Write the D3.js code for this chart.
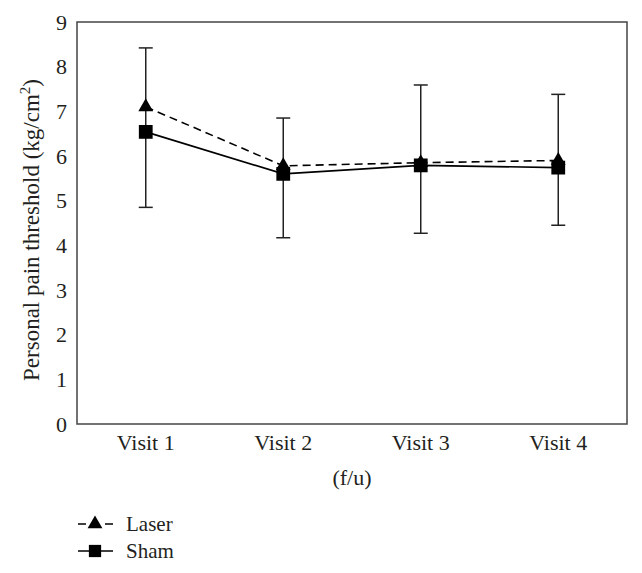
<!DOCTYPE html>
<html>
<head>
<meta charset="utf-8">
<script src="https://cdn.jsdelivr.net/npm/d3@7"></script>
<style>
  html, body { margin: 0; padding: 0; background: #fff; }
  svg { display: block; }
  text { font-family: "Liberation Serif", "DejaVu Serif", serif; fill: #231f20; }
</style>
</head>
<body>
<svg id="chart" width="642" height="573"></svg>
<script>
const categories = ["Visit 1", "Visit 2", "Visit 3", "Visit 4"];
const laserValues = [7.10, 5.78, 5.85, 5.90];
const shamValues = [6.54, 5.60, 5.79, 5.74];
const errorUpper = [8.42, 6.85, 7.59, 7.38];
const errorLower = [4.85, 4.17, 4.27, 4.45];
const yTicks = [0, 1, 2, 3, 4, 5, 6, 7, 8, 9];
const seriesNames = ["Laser", "Sham"];

const svg = d3.select("#chart");
const margin = { left: 77, right: 15, top: 22, bottom: 149 };
const W = 642, H = 573;
const FS = "22px";
const x = d3.scaleBand().domain(categories).range([margin.left, W - margin.right]).padding(0);
const y = d3.scaleLinear().domain([0, 9]).range([H - margin.bottom, margin.top]);

// frame
svg.append("rect")
  .attr("x", margin.left).attr("y", margin.top)
  .attr("width", W - margin.right - margin.left)
  .attr("height", y(0) - y(9))
  .attr("fill", "none").attr("stroke", "#444").attr("stroke-width", 1.5);

// y axis
const yAxis = svg.append("g").attr("transform", `translate(${margin.left},0)`)
  .call(d3.axisLeft(y).tickValues(yTicks).tickSize(0).tickPadding(10).tickFormat(d3.format("d")));
yAxis.select(".domain").remove();
yAxis.selectAll("text").style("font-size", FS).attr("fill", "#231f20")
  .style("font-family", "'Liberation Serif', serif");

// x axis
const xAxis = svg.append("g").attr("transform", `translate(0,${y(0)})`)
  .call(d3.axisBottom(x).tickSize(0).tickPadding(10));
xAxis.select(".domain").remove();
xAxis.selectAll("text").style("font-size", FS).attr("fill", "#231f20")
  .style("font-family", "'Liberation Serif', serif");

// axis titles
svg.append("text")
  .attr("x", (margin.left + W - margin.right) / 2).attr("y", 485)
  .attr("text-anchor", "middle").style("font-size", FS).text("(f/u)");

const yl = svg.append("text")
  .attr("transform", `translate(39,230) rotate(-90)`)
  .attr("text-anchor", "middle").style("font-size", "23px");
yl.append("tspan").text("Personal pain threshold (kg/cm");
yl.append("tspan").attr("dy", -9).style("font-size", "15px").text("2");
yl.append("tspan").attr("dy", 9).text(")");

const cx = d => x(d) + x.bandwidth() / 2;

// error bars
const eb = svg.append("g").attr("stroke", "#222").attr("stroke-width", 1.5);
categories.forEach((c, i) => {
  eb.append("line").attr("x1", cx(c)).attr("x2", cx(c)).attr("y1", y(errorUpper[i])).attr("y2", y(errorLower[i]));
  eb.append("line").attr("x1", cx(c) - 7).attr("x2", cx(c) + 7).attr("y1", y(errorUpper[i])).attr("y2", y(errorUpper[i]));
  eb.append("line").attr("x1", cx(c) - 7).attr("x2", cx(c) + 7).attr("y1", y(errorLower[i])).attr("y2", y(errorLower[i]));
});

const line = d3.line().x(d => cx(d.c)).y(d => y(d.v));
const laserData = categories.map((c, i) => ({ c, v: laserValues[i] }));
const shamData = categories.map((c, i) => ({ c, v: shamValues[i] }));

svg.append("path").datum(laserData).attr("d", line)
  .attr("fill", "none").attr("stroke", "#000").attr("stroke-width", 1.6).attr("stroke-dasharray", "8,5");
svg.append("path").datum(shamData).attr("d", line)
  .attr("fill", "none").attr("stroke", "#000").attr("stroke-width", 1.6);

const tri = d3.symbol().type(d3.symbolTriangle).size(95);
const sq = d3.symbol().type(d3.symbolSquare).size(190);

svg.selectAll(".laser").data(laserData).enter().append("path")
  .attr("transform", d => `translate(${cx(d.c)},${y(d.v)})`).attr("d", tri).attr("fill", "#000");
svg.selectAll(".sham").data(shamData).enter().append("path")
  .attr("transform", d => `translate(${cx(d.c)},${y(d.v)})`).attr("d", sq).attr("fill", "#000");

// legend
const legend = svg.append("g");
const rows = [{ name: seriesNames[0], dash: "8,19", sym: tri, y: 524 }, { name: seriesNames[1], dash: null, sym: d3.symbol().type(d3.symbolSquare).size(150), y: 551 }];
rows.forEach(r => {
  legend.append("line").attr("x1", 78).attr("x2", 113).attr("y1", r.y).attr("y2", r.y)
    .attr("stroke", "#000").attr("stroke-width", 1.6).attr("stroke-dasharray", r.dash);
  legend.append("path").attr("transform", `translate(95,${r.y})`).attr("d", r.sym).attr("fill", "#000");
  legend.append("text").attr("x", 126).attr("y", r.y + 7).style("font-size", "21px").text(r.name);
});
</script>
</body>
</html>
